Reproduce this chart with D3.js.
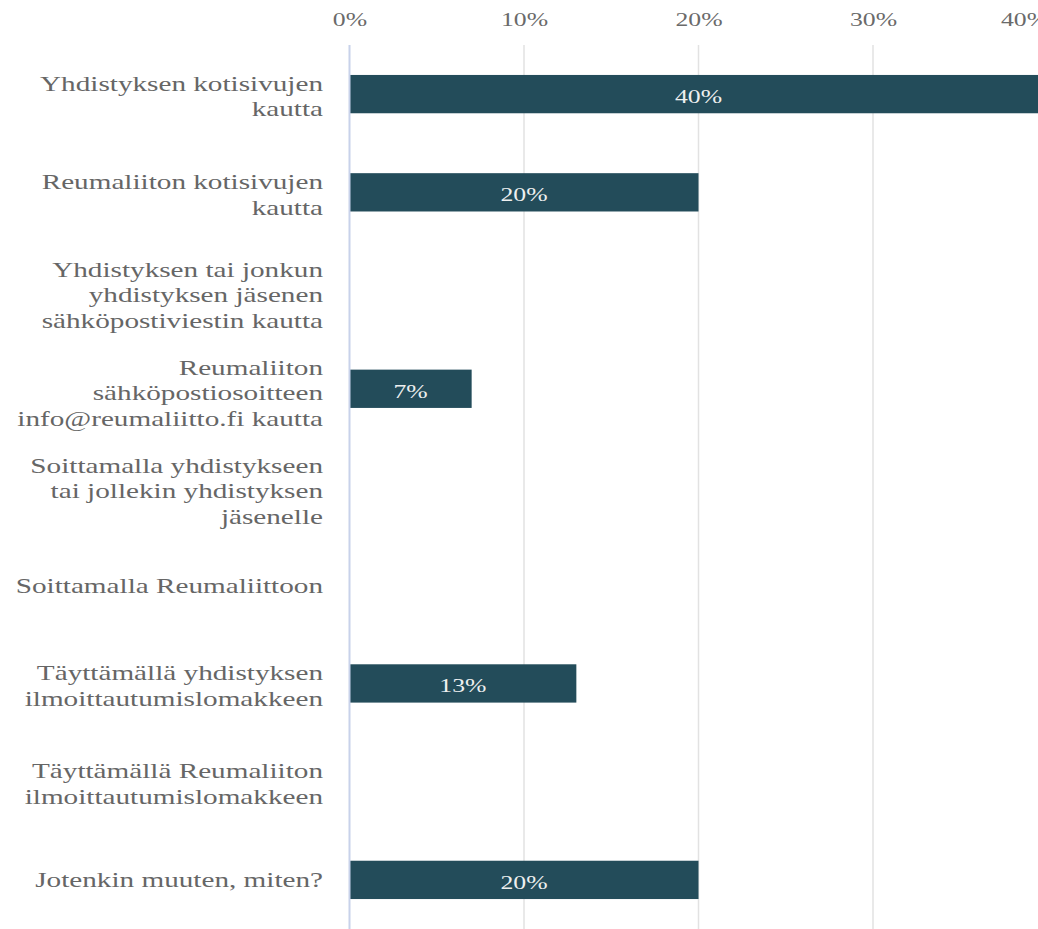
<!DOCTYPE html>
<html>
<head>
<meta charset="utf-8">
<title>Reumaliitto</title>
<script src="https://d3js.org/d3.v7.min.js"></script>
<style>
body { margin: 0; background: #fff; }
svg text { font-family: 'Liberation Serif', 'DejaVu Serif', 'Times New Roman', serif; }
</style>
</head>
<body>
<script>
// categories (line breaks as in the picture)
var categories = [
  "Yhdistyksen kotisivujen\nkautta",
  "Reumaliiton kotisivujen\nkautta",
  "Yhdistyksen tai jonkun\nyhdistyksen jäsenen\nsähköpostiviestin kautta",
  "Reumaliiton\nsähköpostiosoitteen\ninfo@reumaliitto.fi kautta",
  "Soittamalla yhdistykseen\ntai jollekin yhdistyksen\njäsenelle",
  "Soittamalla Reumaliittoon",
  "Täyttämällä yhdistyksen\nilmoittautumislomakkeen",
  "Täyttämällä Reumaliiton\nilmoittautumislomakkeen",
  "Jotenkin muuten, miten?"
];
var values = [0.40, 0.20, 0, 0.07, 0, 0, 0.13, 0, 0.20];
var ticks = [0, 0.1, 0.2, 0.3, 0.4];

var width = 1038, height = 929;
var sx = 1.43;  // the text in the picture is stretched sideways
var sxCat = 1.46;
var serif = "'Liberation Serif', 'DejaVu Serif', serif";

var svg = d3.select("body").append("svg")
    .attr("width", width)
    .attr("height", height);

var x = d3.scaleLinear().domain([0, 0.4]).range([349.5, 1047.5]);
var y = d3.scaleBand().domain(d3.range(categories.length))
    .range([45, 929]).paddingInner(0.61).paddingOuter(0.305);

var pct = d3.format(".0%");

// gridlines
svg.append("g").selectAll("line")
    .data(ticks.slice(1))
    .enter().append("line")
    .attr("x1", function(d) { return x(d); })
    .attr("x2", function(d) { return x(d); })
    .attr("y1", 45).attr("y2", height)
    .attr("stroke", "#e2e2e2")
    .attr("stroke-width", 1.5);

// top axis labels (last one pulled in from the edge, like the original)
var ax = svg.append("g")
    .attr("transform", "translate(0,32)")
    .call(d3.axisTop(x).tickValues(ticks).tickFormat(pct).tickSize(0).tickPadding(0));
ax.attr("font-family", serif);
ax.select(".domain").remove();
ax.selectAll("text")
    .attr("x", function(d) { return Math.min(0, 1024 - x(d)) / sx; })
    .attr("y", -6.5)
    .attr("dy", null)
    .attr("transform", "scale(" + sx + ",1)")
    .attr("font-size", 18)
    .style("font-family", serif)
    .attr("fill", "#6a6a6a");

// bars
svg.append("g").selectAll("rect")
    .data(values)
    .enter().append("rect")
    .attr("x", x(0))
    .attr("y", function(d, i) { return y(i); })
    .attr("width", function(d) { return x(d) - x(0); })
    .attr("height", y.bandwidth())
    .attr("fill", "#234c5a");

// bar labels
svg.append("g").selectAll("text")
    .data(values.map(function(v, i) { return {v: v, i: i}; }).filter(function(d) { return d.v > 0; }))
    .enter().append("text")
    .attr("transform", function(d) {
      return "translate(" + (x(0) + x(d.v)) / 2 + "," + (y(d.i) + y.bandwidth() / 2) + ") scale(" + sx + ",1)";
    })
    .attr("dy", "0.5em")
    .attr("text-anchor", "middle")
    .attr("font-size", 18)
    .style("font-family", serif)
    .attr("fill", "#eef0f0")
    .text(function(d) { return pct(d.v); });

// zero line
svg.append("line")
    .attr("x1", x(0)).attr("x2", x(0))
    .attr("y1", 45).attr("y2", height)
    .attr("stroke", "#c8d2ea")
    .attr("stroke-width", 2);

// category labels
var lh = 25.5;
var lab = svg.append("g").selectAll("text")
    .data(categories)
    .enter().append("text")
    .attr("transform", function(d, i) {
      var n = d.split("\n").length;
      var cy = y(i) + y.bandwidth() / 2 + 7.5 + 2 * (n - 1) - (n - 1) * lh / 2;
      return "translate(323," + cy + ") scale(" + sxCat + ",1)";
    })
    .attr("text-anchor", "end")
    .attr("font-size", 20)
    .style("font-family", serif)
    .attr("fill", "#666666");
lab.selectAll("tspan")
    .data(function(d) { return d.split("\n"); })
    .enter().append("tspan")
    .attr("x", 0)
    .attr("y", function(d, j) { return j * lh; })
    .text(function(d) { return d; });
</script>
</body>
</html>
